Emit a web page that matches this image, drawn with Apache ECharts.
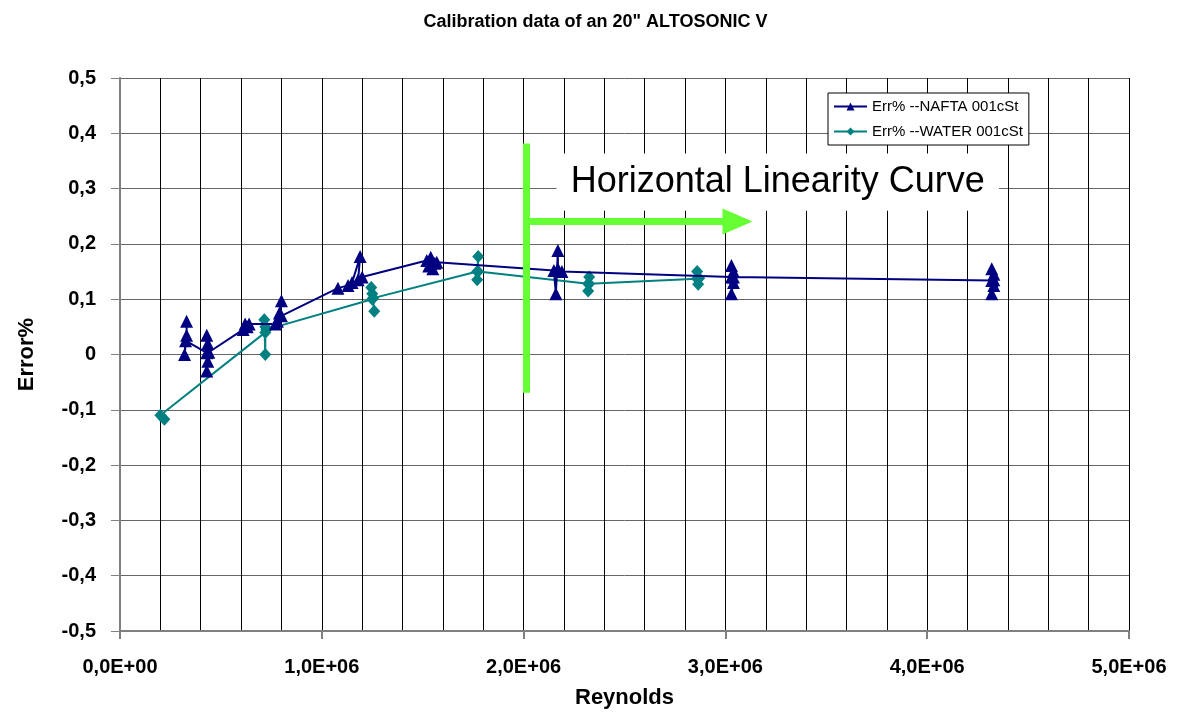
<!DOCTYPE html>
<html>
<head>
<meta charset="utf-8">
<script src="https://cdn.jsdelivr.net/npm/echarts@6/dist/echarts.min.js"></script>
<style>
html,body{margin:0;padding:0;background:#fff;overflow:hidden;}
#c{width:1191px;height:713px;}
</style>
</head>
<body>
<div id="c"></div>
<script>
// ---- Data (Reynolds in units of 1e6, Error %) ----
const naftaRe = [0.33,0.33,0.32,0.325, 0.43,0.43,0.435,0.43,0.435,0.44, 0.61,0.62,0.63,0.64, 0.77,0.78,0.80,0.79,0.80, 1.08,1.13,1.15,1.19,1.18,1.20, 1.52,1.53,1.54,1.55,1.56,1.57, 2.15,2.16,2.17,2.17,2.19, 3.03,3.03,3.04,3.03,3.04,3.04, 4.32,4.32,4.33,4.32,4.33,4.33];
const naftaErr = [0.06,0.035,0.0,0.025, 0.003,0.035,0.02,-0.03,-0.012,0.004, 0.045,0.055,0.05,0.055, 0.055,0.06,0.097,0.075,0.07, 0.12,0.125,0.13,0.177,0.135,0.14, 0.17,0.16,0.176,0.155,0.165,0.167, 0.152,0.11,0.188,0.155,0.15, 0.14,0.161,0.15,0.11,0.13,0.14, 0.134,0.155,0.145,0.11,0.125,0.135];
const waterRe = [0.22,0.20, 0.72,0.72,0.715,0.72,0.725, 1.25,1.245,1.26,1.25,1.255, 1.77,1.775,1.77,1.775, 2.32,2.325,2.32,2.325, 2.86,2.86,2.865,2.87];
const waterErr = [-0.117,-0.11, 0.04,0.0,0.063,0.05,0.045, 0.1,0.121,0.078,0.11,0.102, 0.15,0.177,0.135,0.15, 0.128,0.14,0.115,0.128, 0.137,0.15,0.127,0.138];
const seriesNames = ['Err% --NAFTA 001cSt', 'Err% --WATER 001cSt'];
const xTicks = [0,1,2,3,4,5];
const yTicks = [-0.5,-0.4,-0.3,-0.2,-0.1,0,0.1,0.2,0.3,0.4,0.5];
// annotation (data coords, Reynolds in 1e6)
const annVertical = [[2.012, 0.3815], [2.012, -0.069]];
const annArrow = [[2.012, 0.2405], [3.06, 0.2405]];
const annBox = [[2.163, 0.3635], [4.356, 0.26]];
const annText = 'Horizontal Linearity Curve';

const pairs = (xs, ys) => xs.map((x, i) => [x * 1e6, ys[i]]);
const FONT = "'Liberation Sans', Arial, sans-serif";
const green = '#66FF33';

const chart = echarts.init(document.getElementById('c'), null, {renderer: 'canvas'});
chart.setOption({
  backgroundColor: '#fff',
  animation: false,
  title: {
    text: 'Calibration data of an 20" ALTOSONIC V',
    left: 'center', top: 8,
    textStyle: {fontFamily: FONT, fontSize: 18, fontWeight: 'bold', color: '#000'}
  },
  legend: {
    orient: 'vertical',
    left: 828, top: 93,
    padding: [6, 6, 6, 5],
    itemWidth: 33, itemHeight: 10, itemGap: 10,
    backgroundColor: '#fff',
    borderColor: '#000', borderWidth: 1,
    textStyle: {fontFamily: FONT, fontSize: 15, color: '#000'},
    data: seriesNames
  },
  grid: {left: 120, top: 78, width: 1009, height: 553, containLabel: false, outerBoundsMode: 'none'},
  xAxis: {
    type: 'value', min: 0, max: 5e6, interval: 1e6,
    name: 'Reynolds', nameLocation: 'middle', nameGap: 56,
    nameTextStyle: {fontFamily: FONT, fontSize: 22, fontWeight: 'bold', color: '#000'},
    axisLine: {onZero: false, lineStyle: {color: '#808080', width: 2}},
    axisTick: {show: true, length: 8, inside: false, lineStyle: {color: '#808080', width: 2}},
    axisLabel: {
      margin: 26, fontFamily: FONT, fontSize: 20, fontWeight: 'bold', color: '#000',
      formatter: v => {
        if (v === 0) return '0,0E+00';
        const e = Math.floor(Math.log10(Math.abs(v)));
        const m = (v / Math.pow(10, e)).toFixed(1).replace('.', ',');
        return m + 'E+' + String(e).padStart(2, '0');
      }
    },
    splitLine: {show: true, lineStyle: {color: '#000', width: 1}},
    minorTick: {show: true, splitNumber: 5, length: 0},
    minorSplitLine: {show: true, lineStyle: {color: '#000', width: 1}}
  },
  yAxis: {
    type: 'value', min: -0.5, max: 0.5, interval: 0.1,
    name: 'Error%', nameLocation: 'middle', nameGap: 82, nameRotate: 90,
    nameTextStyle: {fontFamily: FONT, fontSize: 22, fontWeight: 'bold', color: '#000'},
    axisLine: {show: true, onZero: false, lineStyle: {color: '#808080', width: 2}},
    axisTick: {show: true, length: 9, lineStyle: {color: '#808080', width: 1}},
    axisLabel: {
      margin: 24, fontFamily: FONT, fontSize: 20, fontWeight: 'bold', color: '#000',
      formatter: v => {
        const r = Math.round(v * 10) / 10;
        return r === 0 ? '0' : r.toFixed(1).replace('.', ',');
      }
    },
    splitLine: {show: true, lineStyle: {color: '#666', width: 1}}
  },
  series: [
    {
      name: seriesNames[0], type: 'line',
      data: pairs(naftaRe, naftaErr),
      symbol: 'triangle', symbolSize: [13, 13],
      showAllSymbol: true,
      lineStyle: {color: '#000080', width: 2},
      itemStyle: {color: '#000080'},
      z: 4
    },
    {
      name: seriesNames[1], type: 'line',
      data: pairs(waterRe, waterErr),
      symbol: 'diamond', symbolSize: [12, 13],
      showAllSymbol: true,
      lineStyle: {color: '#008080', width: 2},
      itemStyle: {color: '#008080'},
      z: 3,
      markArea: {
        silent: true,
        itemStyle: {color: '#fff', borderWidth: 0},
        label: {show: true, position: 'inside', fontFamily: FONT, fontSize: 36, color: '#000'},
        data: [[
          {coord: [annBox[0][0] * 1e6, annBox[0][1]], name: annText},
          {coord: [annBox[1][0] * 1e6, annBox[1][1]]}
        ]]
      },
      markLine: {
        silent: true,
        animation: false,
        label: {show: false},
        lineStyle: {color: green, width: 7, type: 'solid'},
        data: [
          [
            {coord: [annVertical[0][0] * 1e6, annVertical[0][1]], symbol: 'none'},
            {coord: [annVertical[1][0] * 1e6, annVertical[1][1]], symbol: 'none'}
          ],
          [
            {coord: [annArrow[0][0] * 1e6, annArrow[0][1]], symbol: 'none'},
            {coord: [annArrow[1][0] * 1e6, annArrow[1][1]], symbol: 'triangle', symbolSize: [26, 30]}
          ]
        ]
      }
    }
  ]
});
</script>
</body>
</html>
